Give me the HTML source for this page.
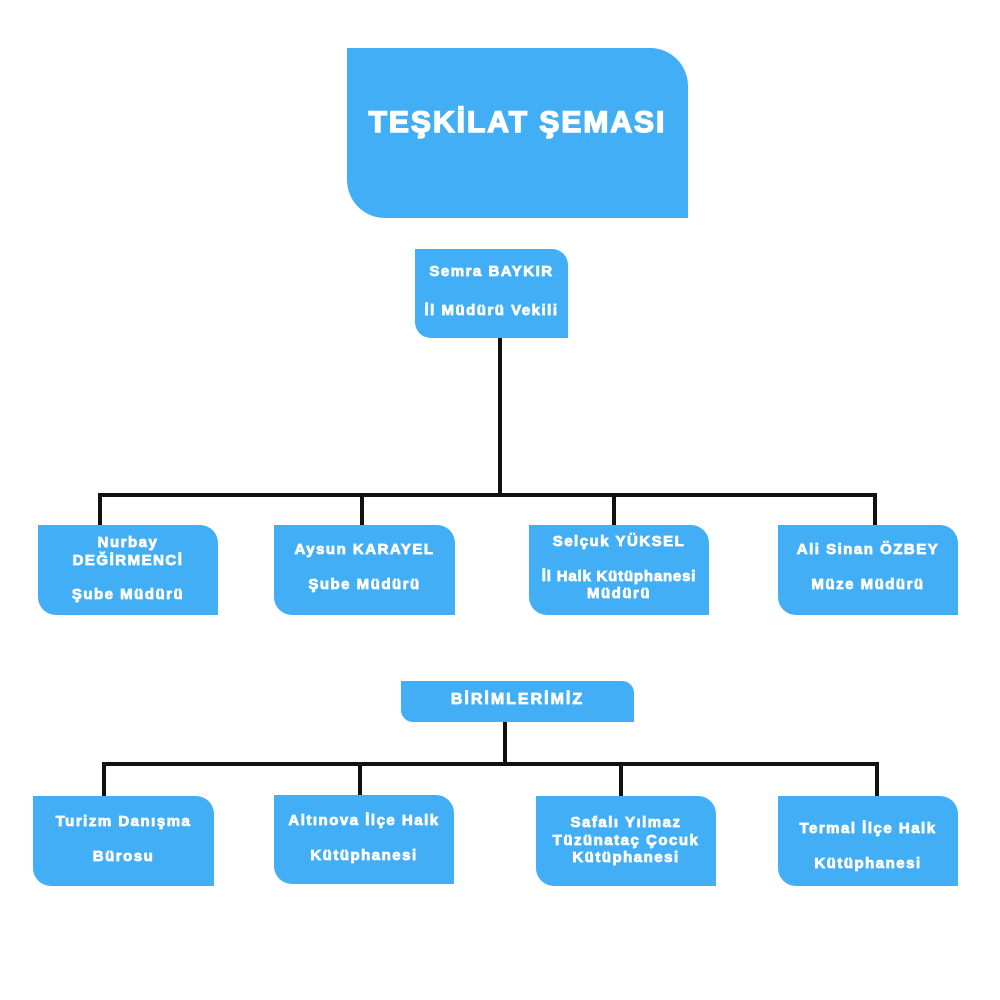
<!DOCTYPE html>
<html><head><meta charset="utf-8"><style>
body{margin:0;width:1000px;height:1000px;background:#fff;position:relative;overflow:hidden;font-family:"Liberation Sans",sans-serif;}
.b{position:absolute;background:#42aef5;}
.t{position:absolute;color:#fff;font-weight:bold;font-size:15px;line-height:18px;height:18px;text-align:center;white-space:nowrap;-webkit-text-stroke:0.8px #fff;letter-spacing:1.5px}
.l{position:absolute;background:#111;}
</style></head><body>
<div class="b" style="left:347px;top:48px;width:341px;height:170px;border-radius:0 38px 0 38px"></div>
<div class="t" style="left:347px;width:341px;top:106px;font-size:30px;line-height:34px;height:34px;-webkit-text-stroke:1.5px #fff;letter-spacing:2px">TEŞKİLAT ŞEMASI</div>

<div class="b" style="left:415px;top:249px;width:153px;height:89px;border-radius:0 16px 0 16px"></div>
<div class="t" style="left:415px;width:153px;top:263px">Semra BAYKIR</div>
<div class="t" style="left:415px;width:153px;top:302px">İl Müdürü Vekili</div>

<div class="l" style="left:498px;top:338px;width:4px;height:159px"></div>
<div class="l" style="left:98px;top:493px;width:779px;height:4px"></div>
<div class="l" style="left:98px;top:493px;width:4px;height:33px"></div>
<div class="l" style="left:360px;top:493px;width:4px;height:33px"></div>
<div class="l" style="left:612px;top:493px;width:4px;height:33px"></div>
<div class="l" style="left:873px;top:493px;width:4px;height:33px"></div>

<div class="b" style="left:38px;top:525px;width:180px;height:90px;border-radius:0 18px 0 18px"></div>
<div class="t" style="left:38px;width:180px;top:534px">Nurbay</div>
<div class="t" style="left:38px;width:180px;top:552px">DEĞİRMENCİ</div>
<div class="t" style="left:38px;width:180px;top:586px">Şube Müdürü</div>

<div class="b" style="left:274px;top:525px;width:181px;height:90px;border-radius:0 18px 0 18px"></div>
<div class="t" style="left:274px;width:181px;top:541px">Aysun KARAYEL</div>
<div class="t" style="left:274px;width:181px;top:576px">Şube Müdürü</div>

<div class="b" style="left:529px;top:525px;width:180px;height:90px;border-radius:0 18px 0 18px"></div>
<div class="t" style="left:529px;width:180px;top:533px">Selçuk YÜKSEL</div>
<div class="t" style="left:529px;width:180px;top:568px;letter-spacing:0.8px">İl Halk Kütüphanesi</div>
<div class="t" style="left:529px;width:180px;top:585px">Müdürü</div>

<div class="b" style="left:778px;top:525px;width:180px;height:90px;border-radius:0 18px 0 18px"></div>
<div class="t" style="left:778px;width:180px;top:541px">Ali Sinan ÖZBEY</div>
<div class="t" style="left:778px;width:180px;top:576px">Müze Müdürü</div>

<div class="b" style="left:401px;top:681px;width:233px;height:41px;border-radius:0 12px 0 12px"></div>
<div class="t" style="left:401px;width:233px;top:690px;font-size:16px;line-height:20px;height:20px;letter-spacing:2px">BİRİMLERİMİZ</div>

<div class="l" style="left:503px;top:722px;width:4px;height:44px"></div>
<div class="l" style="left:102px;top:762px;width:777px;height:4px"></div>
<div class="l" style="left:102px;top:762px;width:4px;height:34px"></div>
<div class="l" style="left:358px;top:762px;width:4px;height:34px"></div>
<div class="l" style="left:619px;top:762px;width:4px;height:34px"></div>
<div class="l" style="left:875px;top:762px;width:4px;height:34px"></div>

<div class="b" style="left:33px;top:796px;width:181px;height:90px;border-radius:0 18px 0 18px"></div>
<div class="t" style="left:33px;width:181px;top:813px">Turizm Danışma</div>
<div class="t" style="left:33px;width:181px;top:848px">Bürosu</div>

<div class="b" style="left:274px;top:795px;width:180px;height:89px;border-radius:0 18px 0 18px"></div>
<div class="t" style="left:274px;width:180px;top:812px">Altınova İlçe Halk</div>
<div class="t" style="left:274px;width:180px;top:847px">Kütüphanesi</div>

<div class="b" style="left:536px;top:796px;width:180px;height:90px;border-radius:0 18px 0 18px"></div>
<div class="t" style="left:536px;width:180px;top:814px">Safalı Yılmaz</div>
<div class="t" style="left:536px;width:180px;top:832px">Tüzünataç Çocuk</div>
<div class="t" style="left:536px;width:180px;top:849px">Kütüphanesi</div>

<div class="b" style="left:778px;top:796px;width:180px;height:90px;border-radius:0 18px 0 18px"></div>
<div class="t" style="left:778px;width:180px;top:820px">Termal İlçe Halk</div>
<div class="t" style="left:778px;width:180px;top:855px">Kütüphanesi</div>
</body></html>
